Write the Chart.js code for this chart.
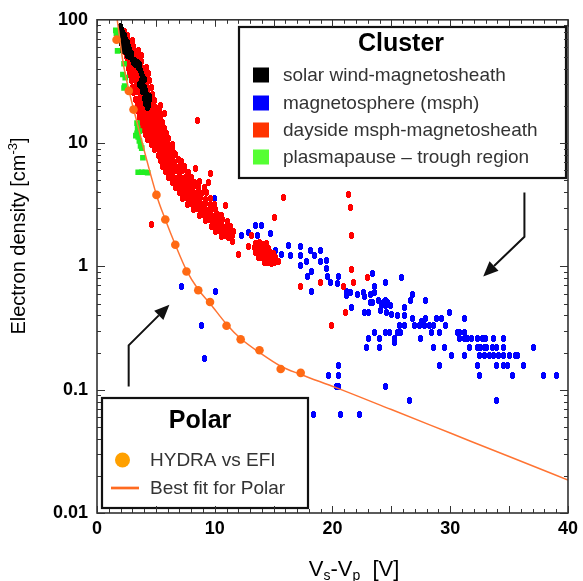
<!DOCTYPE html>
<html><head><meta charset="utf-8">
<script src="https://cdn.jsdelivr.net/npm/chart.js@4.4.1/dist/chart.umd.min.js"></script>
<style>html,body{margin:0;padding:0;background:#fff}canvas{display:block}</style>
</head><body>
<canvas id="c" width="583" height="581"></canvas>
<script>
// ---------------- DATA ----------------
const xTicks = [0, 10, 20, 30, 40];
const yTicks = [0.01, 0.1, 1, 10, 100];
const yTickLabels = ['0.01', '0.1', '1', '10', '100'];

const clusterTitle = 'Cluster';
const clusterLabels = ['solar wind-magnetosheath', 'magnetosphere (msph)', 'dayside msph-magnetosheath', 'plasmapause \u2013 trough region'];
const polarTitle = 'Polar';
const polarLabels = ['HYDRA vs EFI', 'Best fit for Polar'];

// Polar: HYDRA vs EFI points [Vs-Vp, density]
const polarHydra = [[1.66,69],[2.7,26.5],[3.1,18.7],[5.05,3.8],[5.8,2.4],[6.65,1.5],[7.6,0.91],[8.6,0.64],[9.6,0.515],[11.0,0.33],[12.2,0.256],[13.8,0.209],[15.6,0.147],[17.3,0.137]];
// Best fit for Polar
const polarFit = [[1.72,100],[2.2,46],[2.7,27],[3.1,19],[5.05,3.8],[5.8,2.4],[6.65,1.5],[7.6,0.93],[8.6,0.65],[9.6,0.5],[11.0,0.34],[12.2,0.26],[13.8,0.2],[15.6,0.155],[17.3,0.133],[20.3,0.104],[25,0.069],[30,0.0445],[35,0.0287],[40,0.0185]];

// Cluster: solar wind-magnetosheath (black)
const solarWind = [[1.9,82],[2.1,84],[2.0,77],[2.2,79],[2.1,72],[2.3,74],[2.2,67],[2.4,69],[2.3,62],[2.5,64],[2.4,58],[2.6,59],[2.5,54],[2.7,55],[2.2,56],[2.8,50],[3.0,48],[3.1,45],[3.3,43],[3.5,41],[3.7,39],[3.8,37],[3.9,35],[4.0,33],[3.9,30],[4.0,28],[4.1,26.5],[4.2,25],[4.2,23.5],[4.3,22],[4.4,21],[4.4,20],[4.3,19.5],[3.6,30],[2.0,88],[2.6,51],
[1.95,70],[2.05,64],[2.15,60],[2.6,66],[2.7,61],[2.8,57],[2.9,53],[3.2,47],[3.4,45],[3.6,43],[3.75,32],[3.8,29],[3.85,26],[4.0,23],[4.1,21],[4.5,22.5],[4.5,24]];

// Cluster: magnetosphere (blue)
const magnetosphere = [[7.2,0.69],[10.1,0.63],[8.9,0.33],[9.1,0.18],[10.0,3.57],
[12.3,1.77],[12.9,1.9],[13.5,2.15],[14.0,2.15],[13.6,1.77],[14.7,1.84],[15.2,1.34],[15.7,1.25],[16.3,1.47],[16.4,1.22],
[17.3,1.45],[17.3,1.23],[17.3,1.02],[17.8,1.10],[18.1,1.34],[18.5,1.22],[19.0,1.34],[19.0,1.10],[19.5,1.12],[19.5,0.96],
[18.2,0.91],[17.9,0.83],[19.6,0.83],[19.8,0.74],[20.5,0.83],[20.4,0.73],[18.2,0.63],[23.4,0.88],[24.5,0.74],[25.9,0.82],
[23.6,0.69],[23.6,0.61],[21.2,0.63],[21.5,0.61],[21.2,0.58],[22.1,0.59],[22.6,0.61],[22.7,0.57],[23.2,0.59],[23.2,0.51],
[23.4,0.51],[21.6,0.46],[23.9,0.53],[24.2,0.48],[24.3,0.51],[24.5,0.53],[24.7,0.51],[24.9,0.48],[24.5,0.48],[24.1,0.44],
[24.6,0.42],[25.0,0.41],[25.5,0.40],[26.1,0.40],[26.1,0.46],[26.8,0.59],[26.6,0.53],[27.9,0.53],[22.7,0.42],[23.1,0.42],
[29.9,0.42],[23.6,0.29],[24.5,0.29],[24.8,0.29],[25.3,0.26],[25.3,0.24],[24.0,0.26],[24.0,0.22],[23.1,0.26],[22.9,0.22],
[25.7,0.33],[26.1,0.33],[25.8,0.29],[25.5,0.29],[26.8,0.38],[27.0,0.33],[27.4,0.33],[27.8,0.33],[27.6,0.36],[27.9,0.38],
[28.2,0.33],[28.6,0.33],[28.4,0.29],[29.1,0.29],[28.8,0.38],[29.3,0.38],[29.6,0.33],[27.5,0.26],[28.6,0.22],[29.5,0.22],
[30.1,0.19],[30.6,0.29],[30.8,0.29],[31.2,0.29],[31.2,0.38],[30.8,0.26],[31.2,0.26],[31.5,0.26],[31.8,0.26],[31.2,0.19],
[31.6,0.22],[32.3,0.22],[32.6,0.22],[32.9,0.22],[33.1,0.22],[32.3,0.26],[32.7,0.26],[33.0,0.26],[32.5,0.19],[32.9,0.19],
[33.3,0.19],[33.7,0.19],[34.1,0.19],[34.5,0.19],[35.0,0.19],[35.5,0.19],[35.7,0.19],[32.3,0.158],[32.5,0.13],[33.9,0.158],
[34.5,0.158],[34.9,0.158],[36.2,0.158],[33.7,0.26],[34.5,0.26],[34.5,0.22],[33.9,0.22],[33.6,0.22],[35.3,0.13],[37.1,0.22],
[37.9,0.13],[39.0,0.13],[29.1,0.158],[20.5,0.158],[19.7,0.13],[20.5,0.13],[20.3,0.106],[20.5,0.106],[24.5,0.106],[26.5,0.082],
[33.9,0.082],[18.4,0.063],[20.7,0.063],[22.3,0.063]];

// Cluster: dayside msph-magnetosheath (red)
const dayside = [
[2.0,82],[2.3,81],[2.0,75],[2.3,76],[2.6,74],[2.1,68],[2.4,69],[2.7,67],[3.0,68],[2.2,61],[2.5,62],[2.8,60],[3.1,61],
[2.3,55],[2.6,56],[2.9,54],[3.2,55],[3.5,56],[2.5,50],[2.8,51],[3.1,49],[3.4,50],[3.8,51],[2.6,45],[2.9,46],[3.2,44],[3.5,45],[3.8,46],
[2.7,40],[3.0,41],[3.3,39],[3.6,40],[3.9,40],[4.2,41],[2.8,36],[3.1,37],[3.4,35],[3.7,36],[4.0,36],[4.4,37],
[2.9,32],[3.2,33],[3.5,31],[3.8,32],[4.1,33],[4.5,32],[3.0,28.5],[3.3,29],[3.6,28],[3.9,28.5],[4.2,29],[4.6,28],
[3.1,25.5],[3.4,26],[3.7,25],[4.0,25.5],[4.3,26],[4.7,25],[3.3,22.5],[3.6,23],[3.9,22],[4.2,22.5],[4.5,23],[4.9,22],
[3.4,20],[3.7,20.5],[4.0,19.5],[4.3,20],[4.6,20.5],[5.0,19.5],[5.4,20],[3.5,18],[3.8,18.3],[4.1,17.7],[4.4,18],[4.7,18.4],[5.0,17.8],[5.3,18.2],
[3.6,16],[3.9,16.3],[4.2,15.8],[4.5,16.1],[4.8,16.4],[5.1,15.8],[5.4,16.2],[3.8,14.5],[4.1,14.7],[4.4,14.3],[4.7,14.6],[5.0,14.8],[5.3,14.4],[5.6,14.6],
[3.9,13],[4.2,13.2],[4.5,12.8],[4.8,13.1],[5.1,13.3],[5.4,12.9],[5.7,13.1],[4.1,11.8],[4.4,12],[4.7,11.6],[5.0,11.9],[5.3,12.1],[5.6,11.7],[5.9,11.9],
[4.3,10.7],[4.6,10.9],[4.9,10.5],[5.2,10.8],[5.5,11],[5.8,10.6],[6.1,10.8],[4.6,9.7],[4.9,9.9],[5.2,9.5],[5.5,9.8],[5.8,10],[6.1,9.6],[6.4,9.8],
[4.9,8.8],[5.2,9],[5.5,8.7],[5.8,8.9],[6.1,8.6],[6.4,8.9],[5.2,8.0],[5.5,8.2],[5.8,7.9],[6.1,8.1],[6.4,7.8],[6.7,8.1],
[5.4,7.2],[5.7,7.4],[6.0,7.1],[6.3,7.3],[6.6,7.0],[6.9,7.3],[7.2,7.1],[5.6,6.5],[5.9,6.7],[6.2,6.4],[6.5,6.6],[6.8,6.3],[7.1,6.6],[7.4,6.4],
[5.8,5.9],[6.1,6.0],[6.4,5.8],[6.7,6.0],[7.0,5.8],[7.3,5.95],[7.7,5.8],[6.1,5.3],[6.4,5.4],[6.7,5.2],[7.0,5.35],[7.3,5.2],[7.6,5.4],[8.0,5.25],
[6.4,4.8],[6.7,4.9],[7.0,4.75],[7.3,4.85],[7.6,4.7],[7.9,4.9],[8.3,4.75],[8.7,4.85],[6.7,4.4],[7.0,4.45],[7.3,4.35],[7.6,4.45],[7.9,4.3],[8.2,4.45],[8.6,4.35],[9.1,4.4],
[7.0,3.95],[7.3,4.0],[7.6,3.9],[7.9,4.0],[8.2,3.9],[8.5,4.0],[8.9,3.9],[9.3,3.95],[7.3,3.55],[7.6,3.6],[7.9,3.5],[8.2,3.6],[8.5,3.5],[8.8,3.6],[9.2,3.5],[9.6,3.55],
[7.7,3.2],[8.0,3.25],[8.3,3.15],[8.6,3.25],[8.9,3.15],[9.2,3.25],[9.6,3.15],[10.0,3.2],[8.2,2.9],[8.5,2.95],[8.8,2.85],[9.1,2.95],[9.4,2.85],[9.7,2.95],[10.1,2.9],
[8.7,2.6],[9.0,2.65],[9.3,2.55],[9.6,2.65],[9.9,2.55],[10.2,2.65],[10.6,2.6],[9.2,2.35],[9.5,2.4],[9.8,2.3],[10.1,2.38],[10.4,2.3],[10.7,2.38],[11.1,2.33],
[9.7,2.12],[10.0,2.15],[10.3,2.08],[10.6,2.15],[10.9,2.08],[11.3,2.12],[10.1,1.92],[10.4,1.95],[10.7,1.9],[11.0,1.95],[11.3,1.9],[11.6,1.93],
[10.6,1.75],[10.9,1.78],[11.2,1.73],[11.5,1.77],
[13.5,1.52],[13.8,1.55],[14.1,1.5],[14.4,1.53],[13.4,1.42],[13.7,1.4],[14.0,1.42],[14.3,1.38],[14.6,1.4],[13.5,1.3],[13.8,1.28],[14.1,1.3],[14.4,1.27],[14.7,1.3],[15.0,1.28],
[13.7,1.19],[14.0,1.18],[14.3,1.17],[14.6,1.19],[14.9,1.16],[15.2,1.18],[14.2,1.08],[14.5,1.07],[14.8,1.06],[15.1,1.08],[15.4,1.1],
[8.5,15.3],[5.7,17.4],[5.9,10.9],[6.6,8.3],[8.4,6.2],[9.5,4.8],[7.8,5.75],[9.6,5.65],[4.6,2.2],[10.9,3.1],[11.5,1.58],[12.0,1.25],[12.9,1.45],[13.1,1.77],
[15.1,2.5],[15.8,3.6],[21.4,3.8],[21.5,3.0],[21.6,1.77],[21.6,0.95],[21.8,0.74],[20.9,0.69],[21.1,0.42],[19.9,0.33],[23.0,0.82],[19.0,0.74],[17.3,0.69],[4.0,36],[4.2,33]];

// Cluster: plasmapause - trough region (green)
const plasmapause = [[1.6,82],[1.65,78],[1.75,56],[2.3,44],[2.2,36],[2.4,34],[2.3,28],[2.35,29],[3.4,14.5],[3.45,13.2],[3.4,12],[3.5,11.2],[3.6,10.4],[3.7,9.5],[3.8,9.1],[3.9,7.6],[3.5,5.8],[3.8,5.8],[4.1,5.8],[4.3,5.75],[3.3,11.5],[3.6,12.5]];

// Annotation arrows in data coordinates [Vs-Vp, density]
const arrowCluster = [[36.3,3.98],[36.3,1.74],[32.8,0.83]];
const arrowPolar = [[2.69,0.106],[2.69,0.229],[6.15,0.488]];

// ---------------- STYLES ----------------
const FONT = "'Liberation Sans', Arial, Helvetica, sans-serif";
const C_BLACK = '#000000', C_BLUE = '#0000ff', C_RED = '#ff0000', C_GREEN = '#22ee22';
const C_POLAR = '#ff6a14', C_FIT = '#ff7433';

// crisp pixel oval marker (5 x 7)
function oval(color) {
  const c = document.createElement('canvas');
  c.width = 5; c.height = 7;
  const g = c.getContext('2d');
  g.fillStyle = color;
  g.fillRect(1, 0, 3, 1); g.fillRect(0, 1, 5, 5); g.fillRect(1, 6, 3, 1);
  return c;
}
const pts = arr => arr.map(([x, y]) => ({ x, y }));

function drawArrow(ctx, p) {
  ctx.save();
  ctx.strokeStyle = '#111'; ctx.fillStyle = '#111'; ctx.lineWidth = 2;
  const n = p.length, tip = p[n - 1], prev = p[n - 2];
  const ang = Math.atan2(tip[1] - prev[1], tip[0] - prev[0]);
  const L = 15, W = 6.5;
  const bx = tip[0] - L * Math.cos(ang), by = tip[1] - L * Math.sin(ang);
  ctx.beginPath(); ctx.moveTo(p[0][0], p[0][1]);
  for (let i = 1; i < n - 1; i++) ctx.lineTo(p[i][0], p[i][1]);
  ctx.lineTo(bx, by); ctx.stroke();
  ctx.beginPath(); ctx.moveTo(tip[0], tip[1]);
  ctx.lineTo(bx + W * Math.sin(ang), by - W * Math.cos(ang));
  ctx.lineTo(bx - W * Math.sin(ang), by + W * Math.cos(ang));
  ctx.closePath(); ctx.fill();
  ctx.restore();
}

const decorations = {
  id: 'decorations',
  beforeDatasetsDraw(chart) {
    chart.ctx.imageSmoothingEnabled = false;
  },
  afterDatasetsDraw(chart) {
    const { ctx, scales: { x, y } } = chart;
    ctx.imageSmoothingEnabled = true;
    const toPx = a => a.map(([vx, vy]) => [x.getPixelForValue(vx), y.getPixelForValue(vy)]);
    drawArrow(ctx, toPx(arrowCluster));
    drawArrow(ctx, toPx(arrowPolar));

    ctx.save();
    // Cluster legend box
    ctx.fillStyle = '#fff'; ctx.fillRect(239, 27, 327, 151);
    ctx.strokeStyle = '#111'; ctx.lineWidth = 2.2; ctx.strokeRect(239, 27, 327, 151);
    ctx.fillStyle = '#000'; ctx.font = 'bold 25px ' + FONT; ctx.textAlign = 'center'; ctx.textBaseline = 'middle';
    ctx.fillText(clusterTitle, 401, 44);
    const sw = [C_BLACK, C_BLUE, '#ff3300', '#55ff33'];
    const rowsY = [75, 103, 130, 157];
    ctx.font = '19px ' + FONT; ctx.textAlign = 'left';
    clusterLabels.forEach((t, i) => {
      ctx.fillStyle = sw[i]; ctx.fillRect(253, rowsY[i] - 7.5, 16, 15);
      ctx.fillStyle = '#333'; ctx.fillText(t, 283, rowsY[i] + 1);
    });
    // Polar legend box
    ctx.fillStyle = '#fff'; ctx.fillRect(102, 398, 206, 110);
    ctx.strokeStyle = '#111'; ctx.lineWidth = 2.2; ctx.strokeRect(102, 398, 206, 110);
    ctx.fillStyle = '#000'; ctx.font = 'bold 25px ' + FONT; ctx.textAlign = 'center';
    ctx.fillText(polarTitle, 200, 421);
    ctx.fillStyle = '#ffa000'; ctx.beginPath(); ctx.arc(122.5, 460, 7.5, 0, Math.PI * 2); ctx.fill();
    ctx.strokeStyle = '#ff6a20'; ctx.lineWidth = 2.7; ctx.beginPath(); ctx.moveTo(111, 488); ctx.lineTo(139, 488); ctx.stroke();
    ctx.fillStyle = '#333'; ctx.font = '19px ' + FONT; ctx.textAlign = 'left';
    ctx.fillText(polarLabels[0], 150, 461);
    ctx.fillText(polarLabels[1], 150, 489);
    ctx.restore();
  },
  afterDraw(chart) {
    const { ctx, chartArea: a, scales: { x, y } } = chart;
    ctx.save();
    ctx.strokeStyle = '#333'; ctx.lineWidth = 1;
    ctx.beginPath();
    for (let v = 0; v <= 40; v++) {
      const px = Math.round(x.getPixelForValue(v)) + 0.5, L = v % 5 === 0 ? 7 : 4;
      ctx.moveTo(px, a.bottom); ctx.lineTo(px, a.bottom - L);
      ctx.moveTo(px, a.top); ctx.lineTo(px, a.top + L);
    }
    for (let d = -2; d <= 1; d++) for (let m = 1; m <= 9; m++) {
      const py = Math.round(y.getPixelForValue(m * Math.pow(10, d))) + 0.5, L = m === 1 ? 8 : 4;
      ctx.moveTo(a.left, py); ctx.lineTo(a.left + L, py);
      ctx.moveTo(a.right, py); ctx.lineTo(a.right - L, py);
    }
    ctx.stroke();
    ctx.lineWidth = 1.6; ctx.strokeStyle = '#333';
    ctx.strokeRect(a.left, a.top, a.right - a.left, a.bottom - a.top);

    // axis titles
    ctx.fillStyle = '#000'; ctx.textBaseline = 'alphabetic'; ctx.textAlign = 'left';
    const big = '22px ' + FONT, small = '14px ' + FONT;
    const parts = [['V', big, 0], ['s', small, 4], ['-V', big, 0], ['p', small, 4], ['  [V]', big, 0]];
    let w = 0; parts.forEach(([t, f]) => { ctx.font = f; w += ctx.measureText(t).width; });
    let cx = 354 - w / 2;
    parts.forEach(([t, f, dy]) => { ctx.font = f; ctx.fillText(t, cx, 576 + dy); cx += ctx.measureText(t).width; });
    ctx.translate(25, 236); ctx.rotate(-Math.PI / 2);
    const yb = '20px ' + FONT, ys = '13px ' + FONT;
    const yparts = [['Electron density [cm', yb, 0], ['-3', ys, -8], [']', yb, 0]];
    w = 0; yparts.forEach(([t, f]) => { ctx.font = f; w += ctx.measureText(t).width; });
    cx = -w / 2;
    yparts.forEach(([t, f, dy]) => { ctx.font = f; ctx.fillText(t, cx, dy); cx += ctx.measureText(t).width; });
    ctx.restore();
  }
};

new Chart(document.getElementById('c'), {
  type: 'scatter',
  data: {
    datasets: [
      { label: polarLabels[0], data: pts(polarHydra), backgroundColor: C_POLAR, borderWidth: 0, pointRadius: 4.3, order: 0 },
      { type: 'line', label: polarLabels[1], data: pts(polarFit), borderColor: C_FIT, borderWidth: 1.5, pointRadius: 0, fill: false, cubicInterpolationMode: 'monotone', order: 1 },
      { label: clusterLabels[3], data: pts(plasmapause), backgroundColor: C_GREEN, borderWidth: 0, pointStyle: 'rect', pointRadius: 4, order: 2 },
      { label: clusterLabels[0], data: pts(solarWind), pointStyle: oval(C_BLACK), order: 3 },
      { label: clusterLabels[2], data: pts(dayside), pointStyle: oval(C_RED), order: 4 },
      { label: clusterLabels[1], data: pts(magnetosphere), pointStyle: oval(C_BLUE), order: 5 }
    ]
  },
  options: {
    responsive: false,
    animation: false,
    devicePixelRatio: 1,
    layout: { padding: { left: 0, right: 11, top: 13, bottom: 0 } },
    plugins: { legend: { display: false }, tooltip: { enabled: false } },
    scales: {
      x: {
        type: 'linear', min: 0, max: 40,
        afterBuildTicks: s => { s.ticks = xTicks.map(v => ({ value: v })); },
        afterFit: s => { s.height = 68; },
        ticks: { font: { family: FONT, size: 18, weight: 'bold' }, color: '#000', padding: 5, maxRotation: 0, autoSkip: false },
        grid: { display: false, drawTicks: false },
        border: { display: false }
      },
      y: {
        type: 'logarithmic', min: 0.01, max: 100,
        afterBuildTicks: s => { s.ticks = yTicks.map(v => ({ value: v, major: true })); },
        afterFit: s => { s.width = 97; },
        ticks: { font: { family: FONT, size: 18, weight: 'bold' }, color: '#000', padding: 9, autoSkip: false,
                 callback: (v, i) => yTickLabels[i] },
        grid: { display: false, drawTicks: false },
        border: { display: false }
      }
    }
  },
  plugins: [decorations]
});
</script>
</body></html>
